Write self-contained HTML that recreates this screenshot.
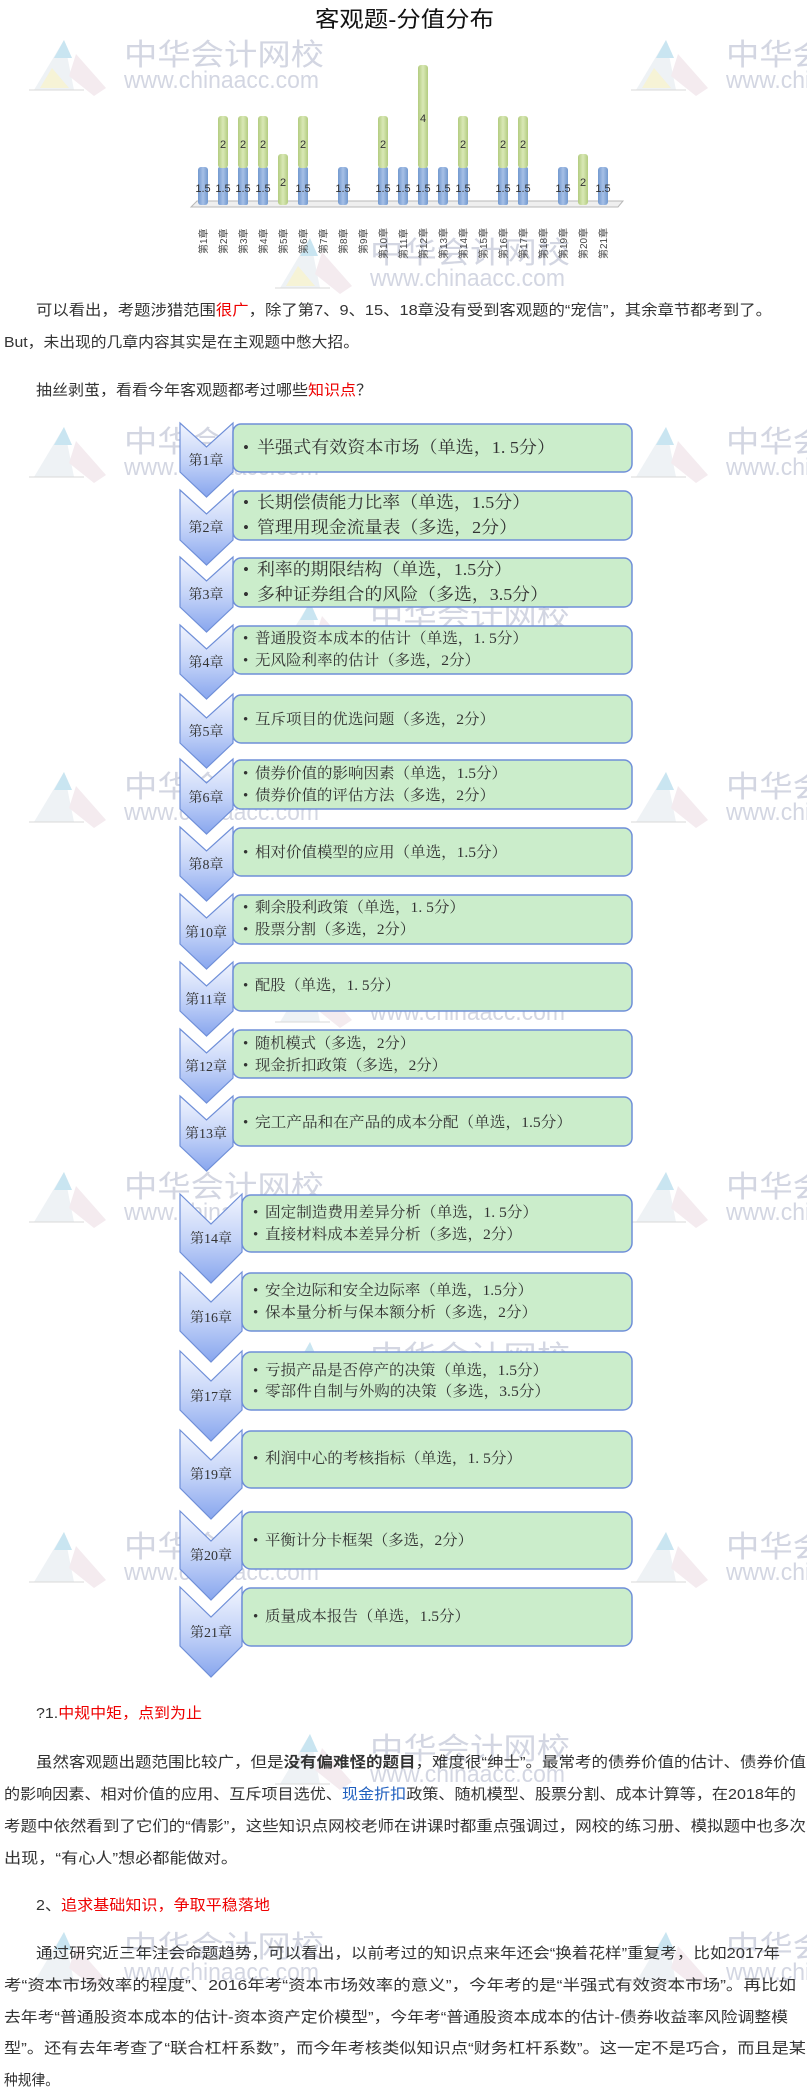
<!DOCTYPE html>
<html><head><meta charset="utf-8"><style>
html,body{margin:0;padding:0;background:#fff;width:807px;height:2093px;overflow:hidden}
svg{display:block}
.s{font-family:"Liberation Sans","Noto Sans CJK SC",sans-serif}
.r{font-family:"Liberation Serif","Noto Serif CJK SC",serif}
.wm text{font-family:"Liberation Sans","Noto Sans CJK SC",sans-serif;fill:#c4c9d8}
</style></head><body>
<svg width="807" height="2093" viewBox="0 0 807 2093" xmlns="http://www.w3.org/2000/svg">
<defs>
<linearGradient id="cg" x1="0" y1="0" x2="0" y2="1"><stop offset="0" stop-color="#f2f5fe"/><stop offset="0.5" stop-color="#c5d4f8"/><stop offset="1" stop-color="#88a6ee"/></linearGradient>
<linearGradient id="bb" x1="0" y1="0" x2="1" y2="0"><stop offset="0" stop-color="#7399cf"/><stop offset="0.5" stop-color="#a6c0e6"/><stop offset="1" stop-color="#7399cf"/></linearGradient>
<linearGradient id="gb" x1="0" y1="0" x2="1" y2="0"><stop offset="0" stop-color="#b3cc80"/><stop offset="0.5" stop-color="#d9e8b6"/><stop offset="1" stop-color="#b3cc80"/></linearGradient>
</defs>

<!-- watermarks -->
<g class="wm" opacity="0.75">
<g transform="translate(124,38)"><polygon points="-60,2 -90,52 -50,52" fill="#e8eef2"/><polygon points="-60,2 -70,20 -52,20" fill="#b7dcec"/><polygon points="-72,30 -84,50 -55,50" fill="#f3efc8"/><polygon points="-48,16 -18,50 -30,58 -55,38" fill="#f0e4ea"/><line x1="-95" y1="52" x2="-40" y2="52" stroke="#ccc"/><text x="0" y="27" font-size="30" textLength="200" lengthAdjust="spacingAndGlyphs">中华会计网校</text><text x="0" y="50" font-size="24" textLength="195" lengthAdjust="spacingAndGlyphs">www.chinaacc.com</text></g>
<g transform="translate(726,38)"><polygon points="-60,2 -90,52 -50,52" fill="#e8eef2"/><polygon points="-60,2 -70,20 -52,20" fill="#b7dcec"/><polygon points="-72,30 -84,50 -55,50" fill="#f3efc8"/><polygon points="-48,16 -18,50 -30,58 -55,38" fill="#f0e4ea"/><line x1="-95" y1="52" x2="-40" y2="52" stroke="#ccc"/><text x="0" y="27" font-size="30" textLength="200" lengthAdjust="spacingAndGlyphs">中华会计网校</text><text x="0" y="50" font-size="24" textLength="195" lengthAdjust="spacingAndGlyphs">www.chinaacc.com</text></g>
<g transform="translate(370,236)"><polygon points="-60,2 -90,52 -50,52" fill="#e8eef2"/><polygon points="-60,2 -70,20 -52,20" fill="#b7dcec"/><polygon points="-72,30 -84,50 -55,50" fill="#f3efc8"/><polygon points="-48,16 -18,50 -30,58 -55,38" fill="#f0e4ea"/><line x1="-95" y1="52" x2="-40" y2="52" stroke="#ccc"/><text x="0" y="27" font-size="30" textLength="200" lengthAdjust="spacingAndGlyphs">中华会计网校</text><text x="0" y="50" font-size="24" textLength="195" lengthAdjust="spacingAndGlyphs">www.chinaacc.com</text></g>
<g transform="translate(124,425)"><polygon points="-60,2 -90,52 -50,52" fill="#e8eef2"/><polygon points="-60,2 -70,20 -52,20" fill="#b7dcec"/><polygon points="-48,16 -18,50 -30,58 -55,38" fill="#f0e4ea"/><line x1="-95" y1="52" x2="-40" y2="52" stroke="#ccc"/><text x="0" y="27" font-size="30" textLength="200" lengthAdjust="spacingAndGlyphs">中华会计网校</text><text x="0" y="50" font-size="24" textLength="195" lengthAdjust="spacingAndGlyphs">www.chinaacc.com</text></g>
<g transform="translate(726,425)"><polygon points="-60,2 -90,52 -50,52" fill="#e8eef2"/><polygon points="-60,2 -70,20 -52,20" fill="#b7dcec"/><polygon points="-48,16 -18,50 -30,58 -55,38" fill="#f0e4ea"/><line x1="-95" y1="52" x2="-40" y2="52" stroke="#ccc"/><text x="0" y="27" font-size="30" textLength="200" lengthAdjust="spacingAndGlyphs">中华会计网校</text><text x="0" y="50" font-size="24" textLength="195" lengthAdjust="spacingAndGlyphs">www.chinaacc.com</text></g>
<g transform="translate(370,600)"><polygon points="-60,2 -90,52 -50,52" fill="#e8eef2"/><polygon points="-60,2 -70,20 -52,20" fill="#b7dcec"/><polygon points="-48,16 -18,50 -30,58 -55,38" fill="#f0e4ea"/><line x1="-95" y1="52" x2="-40" y2="52" stroke="#ccc"/><text x="0" y="27" font-size="30" textLength="200" lengthAdjust="spacingAndGlyphs">中华会计网校</text><text x="0" y="50" font-size="24" textLength="195" lengthAdjust="spacingAndGlyphs">www.chinaacc.com</text></g>
<g transform="translate(124,770)"><polygon points="-60,2 -90,52 -50,52" fill="#e8eef2"/><polygon points="-60,2 -70,20 -52,20" fill="#b7dcec"/><polygon points="-48,16 -18,50 -30,58 -55,38" fill="#f0e4ea"/><line x1="-95" y1="52" x2="-40" y2="52" stroke="#ccc"/><text x="0" y="27" font-size="30" textLength="200" lengthAdjust="spacingAndGlyphs">中华会计网校</text><text x="0" y="50" font-size="24" textLength="195" lengthAdjust="spacingAndGlyphs">www.chinaacc.com</text></g>
<g transform="translate(726,770)"><polygon points="-60,2 -90,52 -50,52" fill="#e8eef2"/><polygon points="-60,2 -70,20 -52,20" fill="#b7dcec"/><polygon points="-48,16 -18,50 -30,58 -55,38" fill="#f0e4ea"/><line x1="-95" y1="52" x2="-40" y2="52" stroke="#ccc"/><text x="0" y="27" font-size="30" textLength="200" lengthAdjust="spacingAndGlyphs">中华会计网校</text><text x="0" y="50" font-size="24" textLength="195" lengthAdjust="spacingAndGlyphs">www.chinaacc.com</text></g>
<g transform="translate(370,970)"><polygon points="-60,2 -90,52 -50,52" fill="#e8eef2"/><polygon points="-60,2 -70,20 -52,20" fill="#b7dcec"/><polygon points="-48,16 -18,50 -30,58 -55,38" fill="#f0e4ea"/><line x1="-95" y1="52" x2="-40" y2="52" stroke="#ccc"/><text x="0" y="27" font-size="30" textLength="200" lengthAdjust="spacingAndGlyphs">中华会计网校</text><text x="0" y="50" font-size="24" textLength="195" lengthAdjust="spacingAndGlyphs">www.chinaacc.com</text></g>
<g transform="translate(124,1170)"><polygon points="-60,2 -90,52 -50,52" fill="#e8eef2"/><polygon points="-60,2 -70,20 -52,20" fill="#b7dcec"/><polygon points="-48,16 -18,50 -30,58 -55,38" fill="#f0e4ea"/><line x1="-95" y1="52" x2="-40" y2="52" stroke="#ccc"/><text x="0" y="27" font-size="30" textLength="200" lengthAdjust="spacingAndGlyphs">中华会计网校</text><text x="0" y="50" font-size="24" textLength="195" lengthAdjust="spacingAndGlyphs">www.chinaacc.com</text></g>
<g transform="translate(726,1170)"><polygon points="-60,2 -90,52 -50,52" fill="#e8eef2"/><polygon points="-60,2 -70,20 -52,20" fill="#b7dcec"/><polygon points="-48,16 -18,50 -30,58 -55,38" fill="#f0e4ea"/><line x1="-95" y1="52" x2="-40" y2="52" stroke="#ccc"/><text x="0" y="27" font-size="30" textLength="200" lengthAdjust="spacingAndGlyphs">中华会计网校</text><text x="0" y="50" font-size="24" textLength="195" lengthAdjust="spacingAndGlyphs">www.chinaacc.com</text></g>
<g transform="translate(370,1340)"><polygon points="-60,2 -90,52 -50,52" fill="#e8eef2"/><polygon points="-60,2 -70,20 -52,20" fill="#b7dcec"/><polygon points="-48,16 -18,50 -30,58 -55,38" fill="#f0e4ea"/><line x1="-95" y1="52" x2="-40" y2="52" stroke="#ccc"/><text x="0" y="27" font-size="30" textLength="200" lengthAdjust="spacingAndGlyphs">中华会计网校</text><text x="0" y="50" font-size="24" textLength="195" lengthAdjust="spacingAndGlyphs">www.chinaacc.com</text></g>
<g transform="translate(124,1530)"><polygon points="-60,2 -90,52 -50,52" fill="#e8eef2"/><polygon points="-60,2 -70,20 -52,20" fill="#b7dcec"/><polygon points="-48,16 -18,50 -30,58 -55,38" fill="#f0e4ea"/><line x1="-95" y1="52" x2="-40" y2="52" stroke="#ccc"/><text x="0" y="27" font-size="30" textLength="200" lengthAdjust="spacingAndGlyphs">中华会计网校</text><text x="0" y="50" font-size="24" textLength="195" lengthAdjust="spacingAndGlyphs">www.chinaacc.com</text></g>
<g transform="translate(726,1530)"><polygon points="-60,2 -90,52 -50,52" fill="#e8eef2"/><polygon points="-60,2 -70,20 -52,20" fill="#b7dcec"/><polygon points="-48,16 -18,50 -30,58 -55,38" fill="#f0e4ea"/><line x1="-95" y1="52" x2="-40" y2="52" stroke="#ccc"/><text x="0" y="27" font-size="30" textLength="200" lengthAdjust="spacingAndGlyphs">中华会计网校</text><text x="0" y="50" font-size="24" textLength="195" lengthAdjust="spacingAndGlyphs">www.chinaacc.com</text></g>
<g transform="translate(370,1732)"><polygon points="-60,2 -90,52 -50,52" fill="#e8eef2"/><polygon points="-60,2 -70,20 -52,20" fill="#b7dcec"/><polygon points="-48,16 -18,50 -30,58 -55,38" fill="#f0e4ea"/><line x1="-95" y1="52" x2="-40" y2="52" stroke="#ccc"/><text x="0" y="27" font-size="30" textLength="200" lengthAdjust="spacingAndGlyphs">中华会计网校</text><text x="0" y="50" font-size="24" textLength="195" lengthAdjust="spacingAndGlyphs">www.chinaacc.com</text></g>
<g transform="translate(124,1930)"><polygon points="-60,2 -90,52 -50,52" fill="#e8eef2"/><polygon points="-60,2 -70,20 -52,20" fill="#b7dcec"/><polygon points="-48,16 -18,50 -30,58 -55,38" fill="#f0e4ea"/><line x1="-95" y1="52" x2="-40" y2="52" stroke="#ccc"/><text x="0" y="27" font-size="30" textLength="200" lengthAdjust="spacingAndGlyphs">中华会计网校</text><text x="0" y="50" font-size="24" textLength="195" lengthAdjust="spacingAndGlyphs">www.chinaacc.com</text></g>
<g transform="translate(726,1930)"><polygon points="-60,2 -90,52 -50,52" fill="#e8eef2"/><polygon points="-60,2 -70,20 -52,20" fill="#b7dcec"/><polygon points="-48,16 -18,50 -30,58 -55,38" fill="#f0e4ea"/><line x1="-95" y1="52" x2="-40" y2="52" stroke="#ccc"/><text x="0" y="27" font-size="30" textLength="200" lengthAdjust="spacingAndGlyphs">中华会计网校</text><text x="0" y="50" font-size="24" textLength="195" lengthAdjust="spacingAndGlyphs">www.chinaacc.com</text></g>
</g>

<!-- title -->
<text class="s" x="315" y="27" font-size="22" fill="#111" textLength="179" lengthAdjust="spacingAndGlyphs">客观题-分值分布</text>

<!-- chart floor -->
<polygon points="191,207 618,207 623,201 197,201" fill="#efefef" stroke="#b8b8b8" stroke-width="1"/>
<!-- bars -->
<g>
<rect x="198" y="167" width="10" height="38" rx="3" fill="url(#bb)"/>
<rect x="218" y="167" width="10" height="38" rx="2" fill="url(#bb)"/><rect x="218" y="116" width="10" height="52" rx="3" fill="url(#gb)"/>
<rect x="238" y="167" width="10" height="38" rx="2" fill="url(#bb)"/><rect x="238" y="116" width="10" height="52" rx="3" fill="url(#gb)"/>
<rect x="258" y="167" width="10" height="38" rx="2" fill="url(#bb)"/><rect x="258" y="116" width="10" height="52" rx="3" fill="url(#gb)"/>
<rect x="278" y="154" width="10" height="51" rx="3" fill="url(#gb)"/>
<rect x="298" y="167" width="10" height="38" rx="2" fill="url(#bb)"/><rect x="298" y="116" width="10" height="52" rx="3" fill="url(#gb)"/>
<rect x="338" y="167" width="10" height="38" rx="3" fill="url(#bb)"/>
<rect x="378" y="167" width="10" height="38" rx="2" fill="url(#bb)"/><rect x="378" y="116" width="10" height="52" rx="3" fill="url(#gb)"/>
<rect x="398" y="167" width="10" height="38" rx="3" fill="url(#bb)"/>
<rect x="418" y="167" width="10" height="38" rx="2" fill="url(#bb)"/><rect x="418" y="65" width="10" height="103" rx="3" fill="url(#gb)"/>
<rect x="438" y="167" width="10" height="38" rx="3" fill="url(#bb)"/>
<rect x="458" y="167" width="10" height="38" rx="2" fill="url(#bb)"/><rect x="458" y="116" width="10" height="52" rx="3" fill="url(#gb)"/>
<rect x="498" y="167" width="10" height="38" rx="2" fill="url(#bb)"/><rect x="498" y="116" width="10" height="52" rx="3" fill="url(#gb)"/>
<rect x="518" y="167" width="10" height="38" rx="2" fill="url(#bb)"/><rect x="518" y="116" width="10" height="52" rx="3" fill="url(#gb)"/>
<rect x="558" y="167" width="10" height="38" rx="3" fill="url(#bb)"/>
<rect x="578" y="154" width="10" height="51" rx="3" fill="url(#gb)"/>
<rect x="598" y="167" width="10" height="38" rx="3" fill="url(#bb)"/>
</g>
<g class="s" font-size="11" fill="#333" text-anchor="middle">
<text x="203" y="192">1.5</text><text x="223" y="192">1.5</text><text x="243" y="192">1.5</text><text x="263" y="192">1.5</text><text x="303" y="192">1.5</text><text x="343" y="192">1.5</text><text x="383" y="192">1.5</text><text x="403" y="192">1.5</text><text x="423" y="192">1.5</text><text x="443" y="192">1.5</text><text x="463" y="192">1.5</text><text x="503" y="192">1.5</text><text x="523" y="192">1.5</text><text x="563" y="192">1.5</text><text x="603" y="192">1.5</text>
<text x="223" y="148">2</text><text x="243" y="148">2</text><text x="263" y="148">2</text><text x="303" y="148">2</text><text x="383" y="148">2</text><text x="463" y="148">2</text><text x="503" y="148">2</text><text x="523" y="148">2</text>
<text x="283" y="186">2</text><text x="583" y="186">2</text><text x="423" y="122">4</text>
</g>
<g class="s" font-size="10" fill="#444">
<text transform="translate(207,254) rotate(-90)">第1章</text>
<text transform="translate(227,254) rotate(-90)">第2章</text>
<text transform="translate(247,254) rotate(-90)">第3章</text>
<text transform="translate(267,254) rotate(-90)">第4章</text>
<text transform="translate(287,254) rotate(-90)">第5章</text>
<text transform="translate(307,254) rotate(-90)">第6章</text>
<text transform="translate(327,254) rotate(-90)">第7章</text>
<text transform="translate(347,254) rotate(-90)">第8章</text>
<text transform="translate(367,254) rotate(-90)">第9章</text>
<text transform="translate(387,259) rotate(-90)">第10章</text>
<text transform="translate(407,259) rotate(-90)">第11章</text>
<text transform="translate(427,259) rotate(-90)">第12章</text>
<text transform="translate(447,259) rotate(-90)">第13章</text>
<text transform="translate(467,259) rotate(-90)">第14章</text>
<text transform="translate(487,259) rotate(-90)">第15章</text>
<text transform="translate(507,259) rotate(-90)">第16章</text>
<text transform="translate(527,259) rotate(-90)">第17章</text>
<text transform="translate(547,259) rotate(-90)">第18章</text>
<text transform="translate(567,259) rotate(-90)">第19章</text>
<text transform="translate(587,259) rotate(-90)">第20章</text>
<text transform="translate(607,259) rotate(-90)">第21章</text>
</g>

<!-- intro text -->
<g class="s" font-size="15" fill="#333">
<text x="36" y="315" textLength="736" lengthAdjust="spacingAndGlyphs">可以看出，考题涉猎范围<tspan fill="#e00">很广</tspan>，除了第7、9、15、18章没有受到客观题的“宠信”，其余章节都考到了。</text>
<text x="4" y="347" textLength="355" lengthAdjust="spacingAndGlyphs">But，未出现的几章内容其实是在主观题中憋大招。</text>
<text x="36" y="395" textLength="336" lengthAdjust="spacingAndGlyphs">抽丝剥茧，看看今年客观题都考过哪些<tspan fill="#e00">知识点</tspan>？</text>
</g>

<!-- chevrons set 1 -->
<g fill="url(#cg)" stroke="#6f8fd8" stroke-width="1.2">
<path d="M180,423 L206.5,447 L233,423 L233,472 L206.5,497 L180,472 Z"/>
<path d="M180,490 L206.5,514 L233,490 L233,540 L206.5,565 L180,540 Z"/>
<path d="M180,557 L206.5,581 L233,557 L233,607 L206.5,632 L180,607 Z"/>
<path d="M180,625 L206.5,649 L233,625 L233,674 L206.5,699 L180,674 Z"/>
<path d="M180,694 L206.5,718 L233,694 L233,743 L206.5,768 L180,743 Z"/>
<path d="M180,759 L206.5,783 L233,759 L233,809 L206.5,834 L180,809 Z"/>
<path d="M180,827 L206.5,851 L233,827 L233,876 L206.5,901 L180,876 Z"/>
<path d="M180,894 L206.5,918 L233,894 L233,944 L206.5,969 L180,944 Z"/>
<path d="M180,962 L206.5,986 L233,962 L233,1011 L206.5,1036 L180,1011 Z"/>
<path d="M180,1029 L206.5,1053 L233,1029 L233,1078 L206.5,1103 L180,1078 Z"/>
<path d="M180,1096 L206.5,1120 L233,1096 L233,1146 L206.5,1171 L180,1146 Z"/>
<path d="M180,1194 L211,1224 L242,1194 L242,1252 L211,1283 L180,1252 Z"/>
<path d="M180,1272 L211,1302 L242,1272 L242,1331 L211,1362 L180,1331 Z"/>
<path d="M180,1351 L211,1381 L242,1351 L242,1410 L211,1441 L180,1410 Z"/>
<path d="M180,1430 L211,1460 L242,1430 L242,1488 L211,1519 L180,1488 Z"/>
<path d="M180,1511 L211,1541 L242,1511 L242,1569 L211,1600 L180,1569 Z"/>
<path d="M180,1587 L211,1617 L242,1587 L242,1646 L211,1677 L180,1646 Z"/>
</g>
<!-- boxes -->
<g fill="#cbedcb" stroke="#6f8fd8" stroke-width="1.5">
<rect x="233" y="424" width="399" height="48" rx="8"/>
<rect x="233" y="491" width="399" height="49" rx="8"/>
<rect x="233" y="558" width="399" height="49" rx="8"/>
<rect x="233" y="626" width="399" height="48" rx="8"/>
<rect x="233" y="695" width="399" height="48" rx="8"/>
<rect x="233" y="760" width="399" height="49" rx="8"/>
<rect x="233" y="828" width="399" height="48" rx="8"/>
<rect x="233" y="895" width="399" height="49" rx="8"/>
<rect x="233" y="963" width="399" height="48" rx="8"/>
<rect x="233" y="1030" width="399" height="48" rx="8"/>
<rect x="233" y="1097" width="399" height="49" rx="8"/>
<rect x="242" y="1195" width="390" height="57" rx="9"/>
<rect x="242" y="1273" width="390" height="58" rx="9"/>
<rect x="242" y="1352" width="390" height="58" rx="9"/>
<rect x="242" y="1431" width="390" height="57" rx="9"/>
<rect x="242" y="1512" width="390" height="57" rx="9"/>
<rect x="242" y="1588" width="390" height="58" rx="9"/>
</g>
<!-- chapter labels -->
<g class="r" font-size="14" fill="#333" text-anchor="middle">
<text x="206" y="465">第1章</text><text x="206" y="532">第2章</text><text x="206" y="599">第3章</text><text x="206" y="667">第4章</text><text x="206" y="736">第5章</text><text x="206" y="802">第6章</text><text x="206" y="869">第8章</text><text x="206" y="937">第10章</text><text x="206" y="1004">第11章</text><text x="206" y="1071">第12章</text><text x="206" y="1138">第13章</text>
<text x="211" y="1243">第14章</text><text x="211" y="1322">第16章</text><text x="211" y="1401">第17章</text><text x="211" y="1479">第19章</text><text x="211" y="1560">第20章</text><text x="211" y="1637">第21章</text>
</g>
<!-- box text -->
<g class="r" fill="#333" font-size="15">
<text x="243" y="453" font-size="17">•</text><text x="257" y="453" font-size="17" textLength="298" lengthAdjust="spacingAndGlyphs">半强式有效资本市场（单选，1. 5分）</text>
<text x="243" y="508" font-size="17">•</text><text x="257" y="508" font-size="17" textLength="273" lengthAdjust="spacingAndGlyphs">长期偿债能力比率（单选，1.5分）</text>
<text x="243" y="533" font-size="17">•</text><text x="257" y="533" font-size="17" textLength="260" lengthAdjust="spacingAndGlyphs">管理用现金流量表（多选，2分）</text>
<text x="243" y="575" font-size="17">•</text><text x="257" y="575" font-size="17" textLength="255" lengthAdjust="spacingAndGlyphs">利率的期限结构（单选，1.5分）</text>
<text x="243" y="600" font-size="17">•</text><text x="257" y="600" font-size="17" textLength="291" lengthAdjust="spacingAndGlyphs">多种证券组合的风险（多选，3.5分）</text>
<text x="243" y="643">•</text><text x="255" y="643" textLength="273" lengthAdjust="spacingAndGlyphs">普通股资本成本的估计（单选，1. 5分）</text>
<text x="243" y="665">•</text><text x="255" y="665" textLength="225" lengthAdjust="spacingAndGlyphs">无风险利率的估计（多选，2分）</text>
<text x="243" y="724">•</text><text x="255" y="724" textLength="240" lengthAdjust="spacingAndGlyphs">互斥项目的优选问题（多选，2分）</text>
<text x="243" y="778">•</text><text x="255" y="778" textLength="252" lengthAdjust="spacingAndGlyphs">债券价值的影响因素（单选，1.5分）</text>
<text x="243" y="800">•</text><text x="255" y="800" textLength="240" lengthAdjust="spacingAndGlyphs">债券价值的评估方法（多选，2分）</text>
<text x="243" y="857">•</text><text x="255" y="857" textLength="252" lengthAdjust="spacingAndGlyphs">相对价值模型的应用（单选，1.5分）</text>
<text x="243" y="912">•</text><text x="255" y="912" textLength="210" lengthAdjust="spacingAndGlyphs">剩余股利政策（单选，1. 5分）</text>
<text x="243" y="934">•</text><text x="255" y="934" textLength="160" lengthAdjust="spacingAndGlyphs">股票分割（多选，2分）</text>
<text x="243" y="990">•</text><text x="255" y="990" textLength="145" lengthAdjust="spacingAndGlyphs">配股（单选，1. 5分）</text>
<text x="243" y="1048">•</text><text x="255" y="1048" textLength="160" lengthAdjust="spacingAndGlyphs">随机模式（多选，2分）</text>
<text x="243" y="1070">•</text><text x="255" y="1070" textLength="192" lengthAdjust="spacingAndGlyphs">现金折扣政策（多选，2分）</text>
<text x="243" y="1127">•</text><text x="255" y="1127" textLength="317" lengthAdjust="spacingAndGlyphs">完工产品和在产品的成本分配（单选，1.5分）</text>
<text x="253" y="1217">•</text><text x="265" y="1217" textLength="273" lengthAdjust="spacingAndGlyphs">固定制造费用差异分析（单选，1. 5分）</text>
<text x="253" y="1239">•</text><text x="265" y="1239" textLength="257" lengthAdjust="spacingAndGlyphs">直接材料成本差异分析（多选，2分）</text>
<text x="253" y="1295">•</text><text x="265" y="1295" textLength="268" lengthAdjust="spacingAndGlyphs">安全边际和安全边际率（单选，1.5分）</text>
<text x="253" y="1317">•</text><text x="265" y="1317" textLength="272" lengthAdjust="spacingAndGlyphs">保本量分析与保本额分析（多选，2分）</text>
<text x="253" y="1375">•</text><text x="265" y="1375" textLength="283" lengthAdjust="spacingAndGlyphs">亏损产品是否停产的决策（单选，1.5分）</text>
<text x="253" y="1396">•</text><text x="265" y="1396" textLength="285" lengthAdjust="spacingAndGlyphs">零部件自制与外购的决策（多选，3.5分）</text>
<text x="253" y="1463">•</text><text x="265" y="1463" textLength="257" lengthAdjust="spacingAndGlyphs">利润中心的考核指标（单选，1. 5分）</text>
<text x="253" y="1545">•</text><text x="265" y="1545" textLength="208" lengthAdjust="spacingAndGlyphs">平衡计分卡框架（多选，2分）</text>
<text x="253" y="1621">•</text><text x="265" y="1621" textLength="205" lengthAdjust="spacingAndGlyphs">质量成本报告（单选，1.5分）</text>
</g>

<!-- bottom text -->
<g class="s" font-size="15" fill="#333">
<text x="36" y="1718" textLength="166" lengthAdjust="spacingAndGlyphs">?1.<tspan fill="#e00">中规中矩，点到为止</tspan></text>
<text x="36" y="1767" textLength="770" lengthAdjust="spacingAndGlyphs">虽然客观题出题范围比较广，但是<tspan font-weight="bold">没有偏难怪的题目</tspan>，难度很“绅士”。最常考的债券价值的估计、债券价值</text>
<text x="4" y="1799" textLength="792" lengthAdjust="spacingAndGlyphs">的影响因素、相对价值的应用、互斥项目选优、<tspan fill="#1f5fbf">现金折扣</tspan>政策、随机模型、股票分割、成本计算等，在2018年的</text>
<text x="4" y="1831" textLength="802" lengthAdjust="spacingAndGlyphs">考题中依然看到了它们的“倩影”，这些知识点网校老师在讲课时都重点强调过，网校的练习册、模拟题中也多次</text>
<text x="4" y="1863" textLength="234" lengthAdjust="spacingAndGlyphs">出现，“有心人”想必都能做对。</text>
<text x="36" y="1910" textLength="234" lengthAdjust="spacingAndGlyphs">2、<tspan fill="#e00">追求基础知识，争取平稳落地</tspan></text>
<text x="36" y="1958" textLength="744" lengthAdjust="spacingAndGlyphs">通过研究近三年注会命题趋势，可以看出，以前考过的知识点来年还会“换着花样”重复考，比如2017年</text>
<text x="4" y="1990" textLength="792" lengthAdjust="spacingAndGlyphs">考“资本市场效率的程度”、2016年考“资本市场效率的意义”，今年考的是“半强式有效资本市场”。再比如</text>
<text x="4" y="2022" textLength="784" lengthAdjust="spacingAndGlyphs">去年考“普通股资本成本的估计-资本资产定价模型”，今年考“普通股资本成本的估计-债券收益率风险调整模</text>
<text x="4" y="2053" textLength="802" lengthAdjust="spacingAndGlyphs">型”。还有去年考查了“联合杠杆系数”，而今年考核类似知识点“财务杠杆系数”。这一定不是巧合，而且是某</text>
<text x="4" y="2085" textLength="55" lengthAdjust="spacingAndGlyphs">种规律。</text>
</g>
</svg>
</body></html>
